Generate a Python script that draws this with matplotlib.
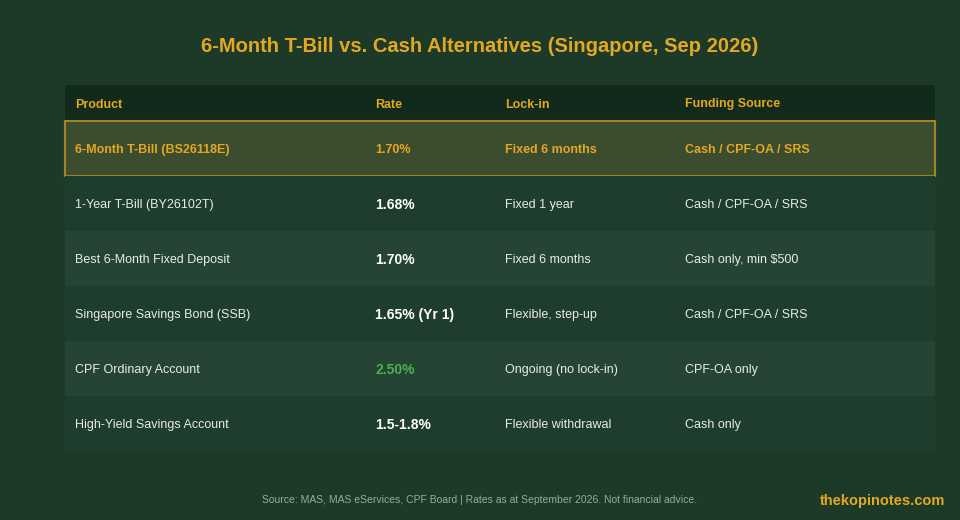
import matplotlib.pyplot as plt
from matplotlib.patches import Rectangle

plt.rcParams['font.family'] = ['Liberation Sans', 'DejaVu Sans']

headers = ["Product", "Rate", "Lock-in", "Funding Source"]
products = ["6-Month T-Bill (BS26118E)", "1-Year T-Bill (BY26102T)", "Best 6-Month Fixed Deposit",
            "Singapore Savings Bond (SSB)", "CPF Ordinary Account", "High-Yield Savings Account"]
rates = ["1.70%", "1.68%", "1.70%", "1.65% (Yr 1)", "2.50%", "1.5-1.8%"]
lockins = ["Fixed 6 months", "Fixed 1 year", "Fixed 6 months", "Flexible, step-up",
           "Ongoing (no lock-in)", "Flexible withdrawal"]
funding = ["Cash / CPF-OA / SRS", "Cash / CPF-OA / SRS", "Cash only, min $500",
           "Cash / CPF-OA / SRS", "CPF-OA only", "Cash only"]

BG = "#1d3a29"
GOLD = "#e3a822"
col_x = [75, 375, 505, 685]
VA = "center_baseline"

fig = plt.figure(figsize=(9.6, 5.2), dpi=100, facecolor=BG)
ax = fig.add_axes([0, 0, 1, 1])
ax.set_xlim(0, 960)
ax.set_ylim(520, 0)
ax.axis("off")

ax.text(480, 45, "6-Month T-Bill vs. Cash Alternatives (Singapore, Sep 2026)",
        color=GOLD, fontsize=14.5, fontweight="bold", ha="center", va=VA)

# header
ax.add_patch(Rectangle((65, 85), 870, 36, color="#112a1b", lw=0))
for x, h in zip(col_x, headers):
    ax.text(x, 103, h, color=GOLD, fontsize=9, fontweight="bold", va=VA)

row_h = 55
top = 121
for i in range(len(products)):
    y0 = top + i * row_h
    yc = y0 + row_h / 2
    if i == 0:
        ax.add_patch(Rectangle((65, y0), 870, row_h, facecolor="#3b4c2f",
                               edgecolor="#a08522", lw=1.5))
        for x, t in zip(col_x, [products[i], rates[i], lockins[i], funding[i]]):
            ax.text(x, yc, t, color=GOLD, fontsize=9, fontweight="bold", va=VA)
        continue
    fc = "#1f3d2c" if i % 2 == 1 else "#264434"
    ax.add_patch(Rectangle((65, y0), 870, row_h, color=fc, lw=0))
    rate_col = "#4caf50" if rates[i] == "2.50%" else "white"
    ax.text(col_x[0], yc, products[i], color="#e8ece9", fontsize=9, va=VA)
    ax.text(col_x[1], yc, rates[i], color=rate_col, fontsize=10, fontweight="bold", va=VA)
    ax.text(col_x[2], yc, lockins[i], color="#e8ece9", fontsize=9, va=VA)
    ax.text(col_x[3], yc, funding[i], color="#e8ece9", fontsize=9, va=VA)

ax.text(480, 499, "Source: MAS, MAS eServices, CPF Board | Rates as at September 2026. Not financial advice.",
        color="#9aa89f", fontsize=7.5, ha="center", va=VA)
ax.text(945, 499, "thekopinotes.com", color=GOLD, fontsize=10.5, fontweight="bold",
        ha="right", va=VA)

fig.savefig("out.png", dpi=100, facecolor=BG)
